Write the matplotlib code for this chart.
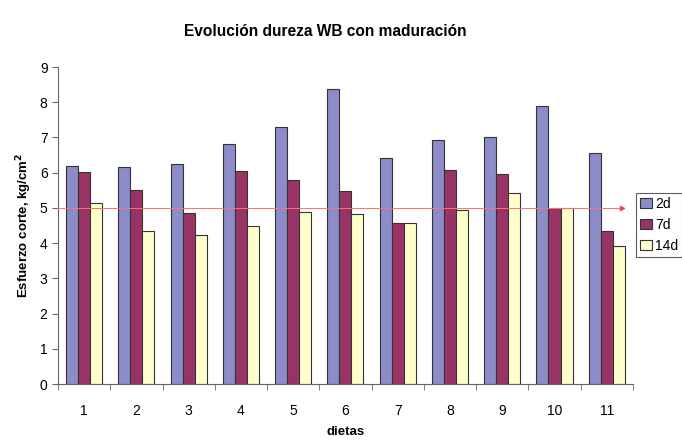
import numpy as np
import matplotlib
matplotlib.use("Agg")
import matplotlib.pyplot as plt
from matplotlib.ticker import FixedLocator

plt.rcParams['font.family'] = ['Liberation Sans', 'DejaVu Sans']

# ---- data ----
dietas = ["1", "2", "3", "4", "5", "6", "7", "8", "9", "10", "11"]
dias = ["2d", "7d", "14d"]
wb_2d = [6.19, 6.17, 6.24, 6.81, 7.31, 8.37, 6.41, 6.94, 7.00, 7.90, 6.57]
wb_7d = [6.03, 5.51, 4.86, 6.04, 5.79, 5.47, 4.56, 6.08, 5.96, 5.01, 4.36]
wb_14d = [5.14, 4.36, 4.24, 4.49, 4.89, 4.82, 4.56, 4.93, 5.43, 4.99, 3.93]
umbral = 5.0
colores = ["#8c8cc8", "#993366", "#ffffcc"]

fig = plt.figure(figsize=(6.82, 4.41), dpi=100)
ax = fig.add_axes([0.085, 0.129, 0.843, 0.719])

x = np.arange(len(dietas))
w = 0.23
for i, (serie, c, lab) in enumerate(zip([wb_2d, wb_7d, wb_14d], colores, dias)):
    ax.bar(x + (i - 1) * w, serie, width=w, color=c, edgecolor="#333333",
           linewidth=0.8, label=lab, zorder=2)

# horizontal reference line with arrow head
ax.plot([-0.5, len(dietas) - 0.7], [umbral, umbral], color="#ff7070", lw=0.7, zorder=3)
ax.plot([len(dietas) - 0.7], [umbral], marker=">", color="#ff4040", ms=3, zorder=3)

ax.set_xlim(-0.5, len(dietas) - 0.5)
ax.set_ylim(0, 9)
ax.set_yticks(range(10))
ax.set_xticks(x)
ax.set_xticklabels(dietas)
ax.xaxis.set_minor_locator(FixedLocator(np.arange(-0.5, len(dietas), 1.0)))
ax.tick_params(axis="x", which="major", length=0, pad=14, labelsize=10)
ax.tick_params(axis="x", which="minor", length=4, color="#666666")
ax.tick_params(axis="y", length=4, color="#666666", labelsize=10)

for s in ["top", "right"]:
    ax.spines[s].set_visible(False)
for s in ["left", "bottom"]:
    ax.spines[s].set_color("#666666")

ax.set_xlabel("dietas", fontweight="bold", fontsize=9.5, labelpad=6)
ax.set_ylabel("Esfuerzo corte, kg/cm$^{\\mathbf{2}}$", fontweight="bold", fontsize=9.5)
fig.suptitle("Evolución dureza WB con maduración", fontweight="bold",
             fontsize=11.2, x=0.477, y=0.945)

leg = ax.legend(loc="center left", bbox_to_anchor=(0.933, 0.44, 0.06, 0.1),
                bbox_transform=fig.transFigure, frameon=True, fancybox=False,
                fontsize=10, handlelength=0.8, handleheight=0.8,
                handletextpad=0.25, labelspacing=0.5, borderpad=0.3,
                borderaxespad=0)
leg.get_frame().set_edgecolor("#333333")
leg.get_frame().set_linewidth(0.8)

fig.savefig("out.png", dpi=100)
